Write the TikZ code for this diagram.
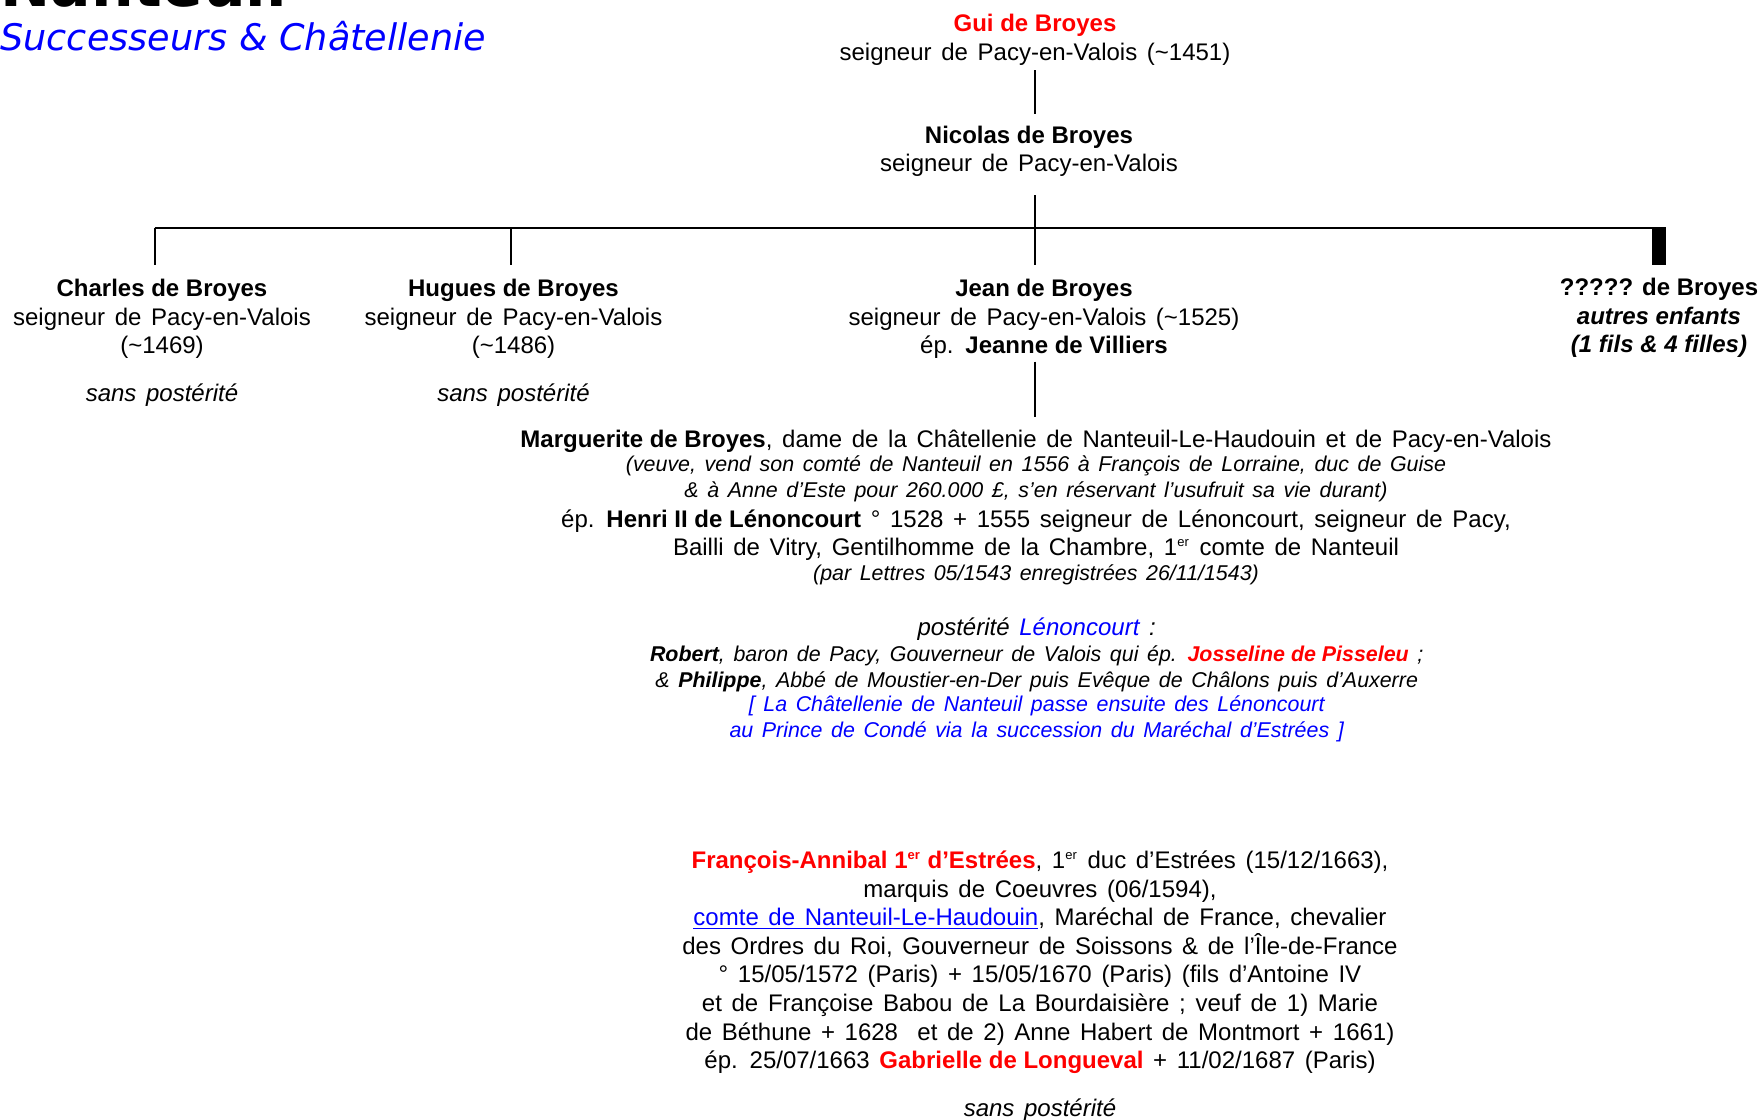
\documentclass[tikz,border=0pt]{standalone}
\usepackage{fontspec}
\setmainfont{Liberation Sans}[WordSpace=1.45, BoldFeatures={WordSpace=1}, BoldItalicFeatures={WordSpace=1}]
\newfontfamily\titlefont{DejaVu Sans}
\usetikzlibrary{calc}
\newcommand\mainsz{\fontsize{12}{14.3}\selectfont}
\newcommand\notesz{\fontsize{10.7}{12.9}\selectfont}
\newcommand\supr[1]{\textsuperscript{\fontsize{6.5}{7}\selectfont #1}}
\tikzset{
  person/.style={align=center, inner sep=0pt, anchor=base, font=\mainsz},
  textline/.style={inner sep=0pt, anchor=base, font=\mainsz},
  noteline/.style={inner sep=0pt, anchor=base, font=\notesz\itshape},
  conn/.style={line width=1pt},
}
\begin{document}
\begin{tikzpicture}[x=0.5pt,y=-0.5pt]
\clip (0,0) rectangle (1758,1120);
\path[use as bounding box] (0,0) rectangle (1758,1120);

% title
\node[anchor=base west, inner sep=0pt, font=\titlefont\bfseries\fontsize{30}{32}\selectfont] (title) at (0,6) {Nanteuil};
\node[anchor=base west, inner sep=0pt, text=blue, font=\titlefont\itshape\fontsize{18.3}{20}\selectfont] (subtitle) at (0,50) {Successeurs \& Châtellenie};

% people (base anchor = baseline of the last line)
\node[person] (gui) at (1035,60) {\textcolor{red}{\textbf{Gui de Broyes}}\\seigneur de Pacy-en-Valois (\textasciitilde1451)};
\node[person] (nico) at (1029,171.7) {\textbf{Nicolas de Broyes}\\seigneur de Pacy-en-Valois};
\node[person] (charles) at (162,401.7) {\textbf{Charles de Broyes}\\seigneur de Pacy-en-Valois\\(\textasciitilde1469)\\[9.7pt]\textit{sans postérité}};
\node[person] (hugues) at (513.5,401.7) {\textbf{Hugues de Broyes}\\seigneur de Pacy-en-Valois\\(\textasciitilde1486)\\[9.7pt]\textit{sans postérité}};
\node[person] (jean) at (1044,353.7) {\textbf{Jean de Broyes}\\seigneur de Pacy-en-Valois (\textasciitilde1525)\\ép. \textbf{Jeanne de Villiers}};
\node[person] (autres) at (1659,352.7) {\textbf{????? de Broyes}\\\textbf{\textit{autres enfants}}\\\textbf{\textit{(1 fils \& 4 filles)}}};

% Marguerite
\node[textline] (marg) at (1036,447) {\textbf{Marguerite de Broyes}, dame de la Châtellenie de Nanteuil-Le-Haudouin et de Pacy-en-Valois};
\node[noteline] (marg2) at (1036,471.7) {(veuve, vend son comté de Nanteuil en 1556 à François de Lorraine, duc de Guise};
\node[noteline] (marg3) at (1036,497.5) {\& à Anne d’Este pour 260.000 £, s’en réservant l’usufruit sa vie durant)};
\node[textline] (henri) at (1036,527.5) {ép. \textbf{Henri II de Lénoncourt} ° 1528 + 1555 seigneur de Lénoncourt, seigneur de Pacy,};
\node[textline] (henri2) at (1036,555.5) {Bailli de Vitry, Gentilhomme de la Chambre, 1\supr{er} comte de Nanteuil};
\node[noteline] (henri3) at (1036,580.5) {(par Lettres 05/1543 enregistrées 26/11/1543)};

% posterite
\node[textline, font=\mainsz\itshape] (post) at (1036.7,635) {postérité \textcolor{blue}{Lénoncourt} :};
\node[noteline] (robert) at (1036.7,661) {\textbf{Robert}, baron de Pacy, Gouverneur de Valois qui ép. \textcolor{red}{\textbf{Josseline de Pisseleu}} ;};
\node[noteline] (philippe) at (1036.7,687) {\& \textbf{Philippe}, Abbé de Moustier-en-Der puis Evêque de Châlons puis d’Auxerre};
\node[noteline, text=blue] (passe) at (1036.7,711.5) {[ La Châtellenie de Nanteuil passe ensuite des Lénoncourt};
\node[noteline, text=blue] (conde) at (1036.7,737.5) {au Prince de Condé via la succession du Maréchal d’Estrées ]};

% Francois-Annibal
\node[person] (francois) at (1040,1116.7) {\textcolor{red}{\textbf{François-Annibal 1\supr{er} d’Estrées}}, 1\supr{er} duc d’Estrées (15/12/1663),\\
marquis de Coeuvres (06/1594),\\
\textcolor{blue}{\underline{comte de Nanteuil-Le-Haudouin}}, Maréchal de France, chevalier\\
des Ordres du Roi, Gouverneur de Soissons \& de l’Île-de-France\\
° 15/05/1572 (Paris) + 15/05/1670 (Paris) (fils d’Antoine IV\\
et de Françoise Babou de La Bourdaisière ; veuf de 1) Marie\\
de Béthune + 1628 \ et de 2) Anne Habert de Montmort + 1661)\\
ép. 25/07/1663 \textcolor{red}{\textbf{Gabrielle de Longueval}} + 11/02/1687 (Paris)\\[9.7pt]
\textit{sans postérité}};

% connectors
\coordinate (trunk) at (1035,228);
\coordinate (barL) at (154.7,228);
\coordinate (barR) at (1666,228);
\coordinate (hdrop) at (511,228);
\draw[conn] ($(gui.south -| trunk)+(0,5)$) -- ($(nico.north -| trunk)+(0,-11)$);
\draw[conn] ($(nico.south -| trunk)+(0,18)$) -- ($(jean.north -| trunk)+(0,-13.3)$);
\draw[conn] (barL) -- (barR);
\draw[conn] (barL) -- ($(barL |- charles.north)+(0,-13.3)$);
\draw[conn] (hdrop) -- ($(hdrop |- hugues.north)+(0,-13.3)$);
\fill ($(barR)+(-14,-1)$) rectangle ($(barR |- autres.north)+(0,-13)$);
\draw[conn] ($(jean.south -| trunk)+(0,2.5)$) -- ($(marg.north -| trunk)+(0,-12.5)$);
\end{tikzpicture}
\end{document}
